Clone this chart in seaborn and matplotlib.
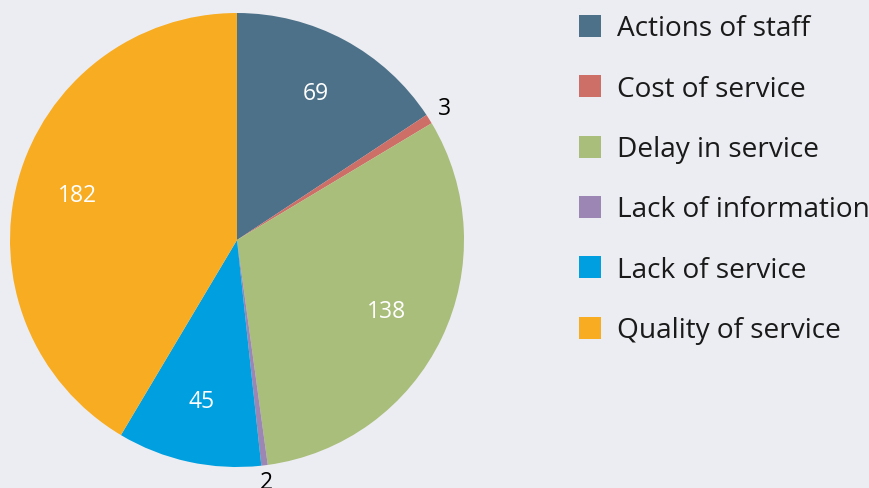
import matplotlib
matplotlib.use("Agg")
import matplotlib.pyplot as plt
import seaborn as sns
import numpy as np
from matplotlib.patches import Rectangle

categories = ["Actions of staff", "Cost of service", "Delay in service",
              "Lack of information", "Lack of service", "Quality of service"]
values = [69, 3, 138, 2, 45, 182]
colors = ["#4d7189", "#cd6f67", "#a9be7a", "#9c86b3", "#009fdf", "#f8ac22"]

bg = "#ecedf2"
sns.set_theme(style="white", rc={"figure.facecolor": bg, "axes.facecolor": bg})
plt.rcParams["font.family"] = ["Open Sans", "DejaVu Sans"]

palette = sns.color_palette(colors)

fig = plt.figure(figsize=(8.69, 4.88), dpi=100)
W, H = 869, 488
ax = fig.add_axes([10 / W, 21 / H, 454 / W, 454 / H])
wedges, _ = ax.pie(values, colors=palette, startangle=90, counterclock=False,
                   radius=1.0, wedgeprops=dict(linewidth=0))
ax.set_xlim(-1, 1)
ax.set_ylim(-1, 1)
ax.set_aspect("equal")
ax.axis("off")

total = sum(values)
for w, v in zip(wedges, values):
    mid = np.deg2rad((w.theta1 + w.theta2) / 2)
    if v / total > 0.05:
        r, col = 0.73, "white"
    else:
        r, col = 1.08, "black"
    ax.text(r * np.cos(mid), r * np.sin(mid), str(v), ha="center", va="center",
            fontsize=16.5, color=col, clip_on=False)

# legend
for i, (cat, c) in enumerate(zip(categories, palette)):
    yc = 26 + i * 60.3
    fig.patches.append(Rectangle((579 / W, 1 - (yc + 11) / H), 22 / W, 22 / H,
                                 transform=fig.transFigure, color=c, lw=0))
    fig.text(617 / W, 1 - yc / H, cat, ha="left", va="center_baseline",
             fontsize=20.2, color="#1a1a1a")

fig.savefig("out.png", dpi=100, facecolor=bg)
